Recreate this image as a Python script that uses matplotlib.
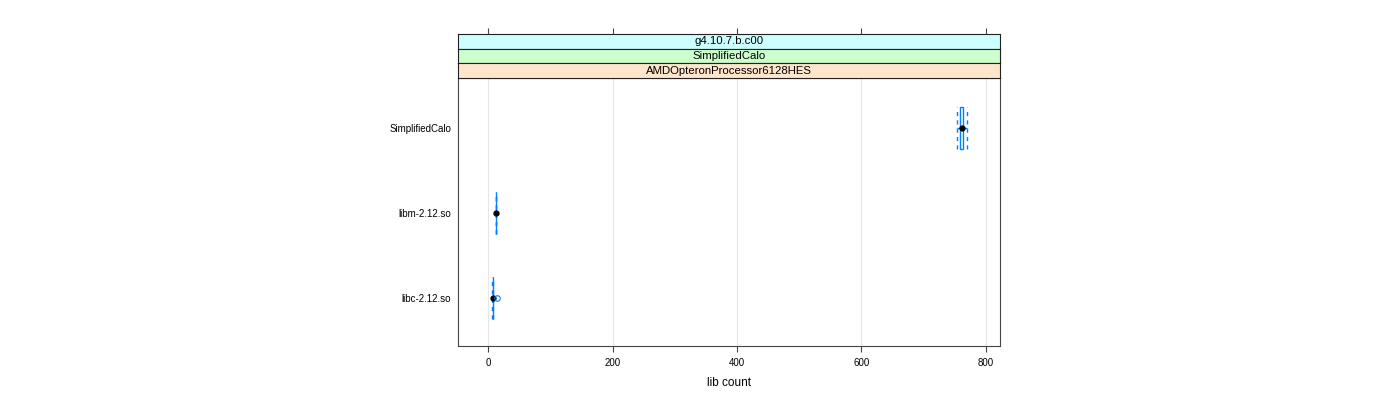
import matplotlib
matplotlib.use("Agg")
import matplotlib.pyplot as plt
from matplotlib.patches import Rectangle

plt.rcParams['font.family'] = ['Liberation Sans', 'DejaVu Sans']

categories = ["libc-2.12.so", "libm-2.12.so", "SimplifiedCalo"]
# five-number summaries: low whisker, q1, median, q3, high whisker
whisk_lo = [7.0, 13.0, 753.0]
q1 = [7.5, 13.0, 758.2]
median = [8.5, 13.0, 761.5]
q3 = [8.0, 13.0, 763.5]
whisk_hi = [8.5, 13.0, 770.0]
outliers = [[14.0], [], []]
strip_labels = ["g4.10.7.b.c00", "SimplifiedCalo", "AMDOpteronProcessor6128HES"]
strip_colors = ["#ccffff", "#ccffcc", "#ffe5cc"]
xticks = [0, 200, 400, 600, 800]

W, H = 1400, 400
fig = plt.figure(figsize=(14, 4), dpi=100)

L, R, B, T = 458, 1000, 346, 78
ax = fig.add_axes([L / W, 1 - B / H, (R - L) / W, (B - T) / H])
ax.set_xlim(-48.2, 822.5)
ax.set_ylim(0.435, 3.59)

blue = "#0080ff"
hw = 0.25
for i, cat in enumerate(categories):
    y = i + 1
    # whiskers
    ax.plot([whisk_lo[i], q1[i]], [y, y], color=blue, lw=1, ls=(0, (3, 3)))
    ax.plot([q3[i], whisk_hi[i]], [y, y], color=blue, lw=1, ls=(0, (3, 3)))
    ax.plot([whisk_lo[i], whisk_lo[i]], [y - hw, y + hw], color=blue, lw=1, ls=(0, (3, 3)))
    ax.plot([whisk_hi[i], whisk_hi[i]], [y - hw, y + hw], color=blue, lw=1, ls=(0, (3, 3)))
    ax.add_patch(Rectangle((q1[i], y - hw), q3[i] - q1[i], 2 * hw, fill=False,
                           edgecolor=blue, lw=1))
    ax.plot([median[i]], [y], 'o', color='black', ms=3.5)
    for o in outliers[i]:
        ax.plot([o], [y], 'o', mfc='none', mec=blue, ms=4, mew=0.8)

ax.set_xticks(xticks)
ax.set_xticklabels([str(t) for t in xticks])
ax.grid(axis='x', color='#e6e6e6', lw=0.8)
ax.set_axisbelow(True)
ax.set_yticks([1, 2, 3])
ax.set_yticklabels(categories)
ax.tick_params(axis='y', length=0, pad=5, labelsize=7)
ax.tick_params(axis='x', length=4, width=0.8, color='#444444', labelsize=7, pad=5)
for s in ax.spines.values():
    s.set_color('#444444')
    s.set_linewidth(0.8)
ax.set_xlabel("lib count", fontsize=8.5, labelpad=6)

# strips
strip_tops = [34, 49, 63]
strip_bots = [49, 63, 78]
for lab, col, st, sb in zip(strip_labels, strip_colors, strip_tops, strip_bots):
    sax = fig.add_axes([L / W, 1 - sb / H, (R - L) / W, (sb - st) / H])
    sax.set_facecolor(col)
    sax.set_xticks([])
    sax.set_yticks([])
    for s in sax.spines.values():
        s.set_color('#222222')
        s.set_linewidth(0.8)
    sax.text(0.5, 0.5, lab, ha='center', va='center', fontsize=8.2, transform=sax.transAxes)

# top ticks above strips
tax = fig.add_axes([L / W, 1 - 34 / H, (R - L) / W, 0.0001])
tax.set_xlim(ax.get_xlim())
tax.set_xticks(xticks)
tax.xaxis.tick_top()
tax.tick_params(axis='x', length=4, width=0.8, color='#444444', labeltop=False, labelbottom=False, bottom=False)
tax.set_yticks([])
for s in tax.spines.values():
    s.set_visible(False)
tax.patch.set_visible(False)

fig.savefig("out.png", dpi=100)
